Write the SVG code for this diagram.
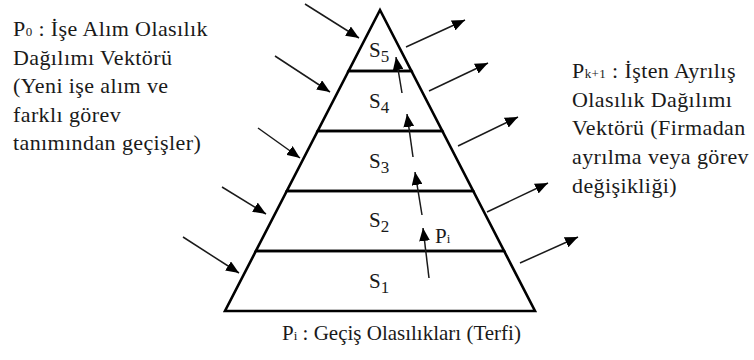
<svg xmlns="http://www.w3.org/2000/svg" width="754" height="360" viewBox="0 0 754 360">
<style>
.lvl{fill:none;stroke:#000;stroke-width:2.6;stroke-linejoin:miter}
text{font-family:'Liberation Serif','Times New Roman','DejaVu Serif',serif;font-size:21px;fill:#1a1a1a}
.side{font-size:22px;letter-spacing:0.4px}
.s{font-size:13px}
.sub{font-size:17px}
.ar{stroke:#1a1a1a;stroke-width:1.5;fill:none;marker-end:url(#ah)}
</style>
<defs>
<marker id="ah" viewBox="0 0 12 10" refX="12" refY="5" markerWidth="13" markerHeight="11" markerUnits="userSpaceOnUse" orient="auto">
<path d="M0,0 L12,5 L0,10 z" fill="#000"/>
</marker>
</defs>
<rect width="754" height="360" fill="#fff"/>
<g id="S5"><polygon class="lvl" points="380,10 411.4,71 348.6,71"/><text x="369" y="57">S<tspan class="sub" dy="5">5</tspan></text></g>
<g id="S4"><polygon class="lvl" points="348.6,71 411.4,71 442.3,131 317.7,131"/><text x="369" y="108">S<tspan class="sub" dy="5">4</tspan></text></g>
<g id="S3"><polygon class="lvl" points="317.7,131 442.3,131 473.2,191 286.8,191"/><text x="369" y="168">S<tspan class="sub" dy="5">3</tspan></text></g>
<g id="S2"><polygon class="lvl" points="286.8,191 473.2,191 504.1,251 255.9,251"/><text x="369" y="227">S<tspan class="sub" dy="5">2</tspan></text></g>
<g id="S1"><polygon class="lvl" points="255.9,251 504.1,251 535,311 225,311"/><text x="369" y="288">S<tspan class="sub" dy="5">1</tspan></text></g>
<g id="P0-label"><text class="side"><tspan x="13" y="36">P<tspan class="s">0</tspan> : İşe Alım Olasılık</tspan><tspan x="13" y="65">Dağılımı Vektörü</tspan><tspan x="13" y="93">(Yeni işe alım ve</tspan><tspan x="13" y="122">farklı görev</tspan><tspan x="13" y="150">tanımından geçişler)</tspan></text></g>
<g id="Pk1-label"><text class="side"><tspan x="572" y="78">P<tspan class="s">k+1</tspan> : İşten Ayrılış</tspan><tspan x="572" y="107">Olasılık Dağılımı</tspan><tspan x="572" y="135">Vektörü (Firmadan</tspan><tspan x="572" y="164">ayrılma veya görev</tspan><tspan x="572" y="193">değişikliği)</tspan></text></g>
<g id="Pi-label"><text x="435" y="243">P<tspan class="s">i</tspan></text></g>
<g id="Pi-caption"><text x="282" y="340">P<tspan class="s">i</tspan> : Geçiş Olasılıkları (Terfi)</text></g>
<g id="connectors">
<line class="ar" x1="305" y1="4" x2="359" y2="38"/>
<line class="ar" x1="275" y1="56" x2="330" y2="92"/>
<line class="ar" x1="258" y1="128" x2="300" y2="158"/>
<line class="ar" x1="222" y1="187" x2="266" y2="214"/>
<line class="ar" x1="183" y1="237" x2="239" y2="273"/>
<line class="ar" x1="406" y1="47" x2="465" y2="20"/>
<line class="ar" x1="429" y1="91" x2="488" y2="63"/>
<line class="ar" x1="458" y1="146" x2="518" y2="117"/>
<line class="ar" x1="487" y1="212" x2="548" y2="183"/>
<line class="ar" x1="520" y1="263" x2="578" y2="237"/>
<line class="ar" x1="402" y1="93" x2="396" y2="57"/>
<line class="ar" x1="413" y1="157" x2="407" y2="114"/>
<line class="ar" x1="422" y1="215" x2="415" y2="172"/>
<line class="ar" x1="429" y1="278" x2="423" y2="228"/>
</g>
</svg>
